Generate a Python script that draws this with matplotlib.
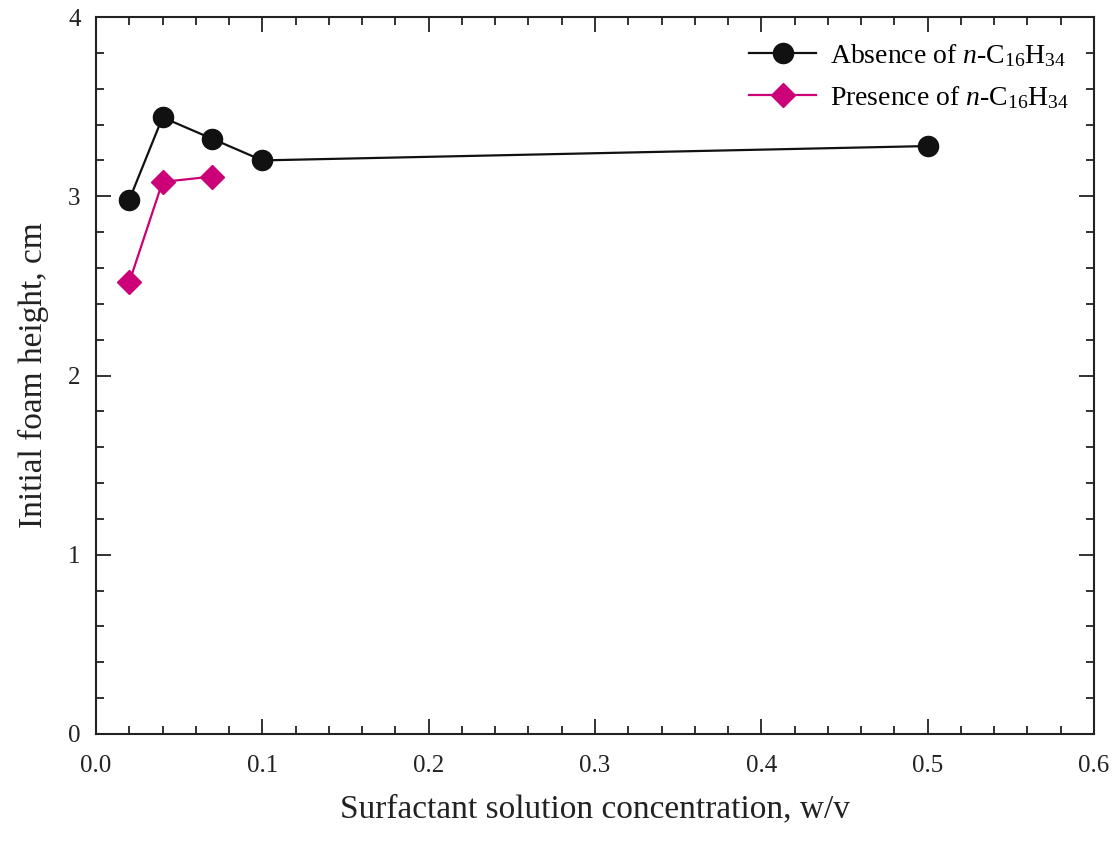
import matplotlib
matplotlib.use("Agg")
import matplotlib.pyplot as plt
from matplotlib.ticker import MultipleLocator

plt.rcParams['font.family'] = ['Liberation Serif', 'DejaVu Serif']
plt.rcParams['mathtext.fontset'] = 'custom'
plt.rcParams['mathtext.rm'] = 'Liberation Serif'
plt.rcParams['mathtext.it'] = 'Liberation Serif:italic'

# Initial foam height vs surfactant concentration
conc_absence = [0.02, 0.04, 0.07, 0.10, 0.50]
height_absence = [2.98, 3.44, 3.32, 3.20, 3.28]
conc_presence = [0.02, 0.04, 0.07]
height_presence = [2.52, 3.08, 3.11]

x_ticks = [0.0, 0.1, 0.2, 0.3, 0.4, 0.5, 0.6]
y_ticks = [0, 1, 2, 3, 4]

fig = plt.figure(figsize=(11.17, 8.42), dpi=100)
ax = fig.add_axes([96/1117, 1 - 734/842, (1094-96)/1117, (734-17)/842])

ax.plot(conc_absence, height_absence, color='#111111', lw=1.6, marker='o',
        markersize=14.5, markerfacecolor='#111111', markeredgecolor='#111111',
        label=r'Absence of $\mathit{n}$-C$_{16}$H$_{34}$', zorder=3)
ax.plot(conc_presence, height_presence, color='#cc0077', lw=1.6, marker='D',
        markersize=12, markerfacecolor='#cc0077', markeredgecolor='#cc0077',
        label=r'Presence of $\mathit{n}$-C$_{16}$H$_{34}$', zorder=3)

ax.set_xlim(0, 0.6)
ax.set_ylim(0, 4)
ax.set_xticks(x_ticks)
ax.set_xticklabels([f'{v:.1f}' for v in x_ticks])
ax.set_yticks(y_ticks)
ax.xaxis.set_minor_locator(MultipleLocator(0.02))
ax.yaxis.set_minor_locator(MultipleLocator(0.2))
ax.tick_params(which='both', direction='in', top=True, right=True,
               labelsize=18, width=1.3, colors='#222222')
ax.tick_params(which='major', length=11)
ax.tick_params(axis='x', which='major', pad=15)
ax.tick_params(axis='y', which='major', pad=11)
ax.tick_params(which='minor', length=6)
for s in ax.spines.values():
    s.set_linewidth(1.5)
    s.set_color('#222222')

ax.set_xlabel('Surfactant solution concentration, w/v', fontsize=24, labelpad=12, color='#222222')
ax.set_ylabel('Initial foam height, cm', fontsize=24, labelpad=14, color='#222222')

ax.legend(loc='upper right', frameon=False, fontsize=20, handlelength=2.4,
          borderaxespad=0.5, handletextpad=0.5, labelspacing=0.55)

fig.savefig('out.png', dpi=100)
